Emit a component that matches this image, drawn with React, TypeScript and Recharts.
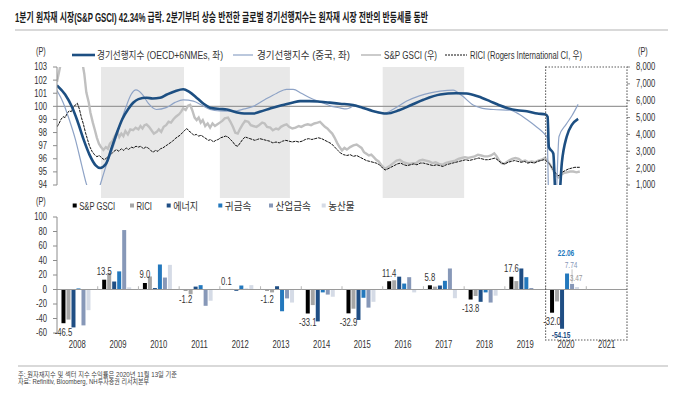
import React from 'react';
import {
  ComposedChart, BarChart, Line, Bar, XAxis, YAxis, ReferenceLine, ReferenceArea, LabelList,
} from 'recharts';

// ---------------- DATA ----------------
// Leading indicators (left axis) : [time (year fraction), value]
const oecdCli: [number, number][] = [
  [2008.0, 101.6], [2008.2, 100.9], [2008.36, 100.0], [2008.5, 98.9], [2008.65, 97.5], [2008.8, 96.3],
  [2008.95, 95.5], [2009.06, 95.3], [2009.2, 95.6], [2009.35, 96.9], [2009.47, 97.97], [2009.6, 99.0],
  [2009.75, 99.8], [2009.87, 100.27], [2010.0, 100.55], [2010.2, 100.65], [2010.35, 100.6], [2010.53, 100.65],
  [2010.7, 100.9], [2010.9, 101.15], [2011.1, 101.3], [2011.25, 101.1], [2011.45, 100.6], [2011.6, 100.2],
  [2011.76, 99.9], [2012.0, 99.8], [2012.17, 99.76], [2012.4, 99.55], [2012.6, 99.45], [2012.82, 99.45],
  [2013.0, 99.6], [2013.25, 99.85], [2013.55, 100.1], [2013.8, 100.3], [2013.97, 100.4], [2014.2, 100.4],
  [2014.46, 100.35], [2014.7, 100.28], [2014.95, 100.2], [2015.27, 100.1], [2015.5, 99.9], [2015.75, 99.65],
  [2016.1, 99.45], [2016.4, 99.7], [2016.7, 100.1], [2017.0, 100.5], [2017.41, 100.9], [2017.8, 101.0],
  [2018.06, 100.98], [2018.35, 100.75], [2018.63, 100.4], [2018.85, 100.1], [2019.05, 99.88], [2019.3, 99.7],
  [2019.54, 99.63], [2019.8, 99.45], [2020.0, 99.37], [2020.05, 99.2], [2020.08, 96.9], [2020.19, 96.4],
  [2020.25, 93.0], [2020.33, 93.0], [2020.4, 95.7], [2020.52, 97.7], [2020.65, 98.6], [2020.8, 99.05],
];

const chinaCli: [number, number][] = [
  [2008.0, 101.2], [2008.15, 100.3], [2008.3, 99.0], [2008.45, 97.5], [2008.6, 95.6], [2008.73, 94.0],
  [2008.8, 93.4], [2008.9, 93.0], [2009.0, 93.4], [2009.06, 94.0], [2009.2, 95.4], [2009.38, 96.9],
  [2009.55, 98.6], [2009.7, 100.0], [2009.82, 100.9], [2009.94, 101.25], [2010.1, 100.9], [2010.25, 100.2],
  [2010.44, 99.76], [2010.68, 99.9], [2010.9, 100.3], [2011.1, 100.5], [2011.35, 100.4], [2011.55, 100.1],
  [2011.76, 99.76], [2012.0, 99.65], [2012.33, 99.63], [2012.6, 99.8], [2012.82, 100.0], [2013.1, 100.5],
  [2013.4, 101.0], [2013.64, 101.3], [2013.8, 101.3], [2014.0, 101.0], [2014.21, 100.65], [2014.5, 100.3],
  [2014.75, 100.0], [2014.95, 99.88], [2015.1, 99.8], [2015.2, 99.9], [2015.32, 100.1], [2015.45, 99.95],
  [2015.7, 99.7], [2016.02, 99.45], [2016.3, 99.85], [2016.59, 100.4], [2016.9, 100.8], [2017.2, 101.05],
  [2017.41, 101.16], [2017.73, 101.24], [2017.95, 100.8], [2018.22, 100.1], [2018.45, 99.85], [2018.72, 99.76],
  [2019.13, 99.7], [2019.35, 99.4], [2019.54, 98.99], [2019.75, 98.5], [2019.95, 97.97], [2020.04, 97.6],
  [2020.08, 92.5], [2020.16, 91.5], [2020.25, 92.5], [2020.33, 97.7], [2020.5, 98.6], [2020.65, 99.3],
  [2020.8, 100.15],
];

// Commodity indices (right axis)
const gsciIdx: [number, number][] = [
  [2008.0, 7130], [2008.05, 7700], [2008.1, 8300], [2008.25, 9300], [2008.45, 10500], [2008.55, 9800],
  [2008.62, 8300], [2008.67, 7600], [2008.72, 6500], [2008.78, 5900], [2008.82, 5300], [2008.88, 4700],
  [2008.93, 4260], [2008.98, 3800], [2009.03, 3450], [2009.08, 3250], [2009.14, 3080], [2009.2, 3250],
  [2009.25, 3150], [2009.3, 3450], [2009.36, 3600], [2009.42, 3900], [2009.48, 4150], [2009.53, 3850],
  [2009.58, 4050], [2009.63, 3900], [2009.68, 4200], [2009.74, 4000], [2009.8, 4300], [2009.87, 4250],
  [2009.93, 4400], [2010.0, 4300], [2010.05, 4500], [2010.1, 4350], [2010.15, 4550], [2010.2, 4600],
  [2010.26, 4450], [2010.32, 4250], [2010.38, 4050], [2010.45, 4150], [2010.5, 4300], [2010.56, 4150],
  [2010.62, 4450], [2010.68, 4550], [2010.74, 4750], [2010.8, 4700], [2010.86, 4900], [2010.92, 5050],
  [2011.0, 5200], [2011.05, 5350], [2011.1, 5550], [2011.16, 5450], [2011.22, 5700], [2011.27, 5750],
  [2011.32, 5450], [2011.38, 5000], [2011.43, 4850], [2011.48, 5000], [2011.53, 4700], [2011.58, 4850],
  [2011.64, 4500], [2011.7, 4650], [2011.76, 4400], [2011.82, 4650], [2011.88, 4500], [2011.94, 4600],
  [2012.0, 4700], [2012.06, 4800], [2012.12, 4950], [2012.2, 5000], [2012.26, 4750], [2012.32, 4450],
  [2012.38, 4100], [2012.44, 4050], [2012.5, 4350], [2012.56, 4600], [2012.62, 4800], [2012.7, 4750],
  [2012.76, 4550], [2012.82, 4500], [2012.9, 4450], [2012.96, 4550], [2013.04, 4700], [2013.1, 4650],
  [2013.16, 4450], [2013.24, 4400], [2013.3, 4250], [2013.38, 4350], [2013.44, 4300], [2013.5, 4450],
  [2013.58, 4550], [2013.64, 4600], [2013.7, 4450], [2013.78, 4350], [2013.86, 4400], [2013.94, 4500],
  [2014.0, 4450], [2014.08, 4550], [2014.16, 4600], [2014.24, 4550], [2014.32, 4650], [2014.4, 4700],
  [2014.46, 4750], [2014.52, 4600], [2014.58, 4450], [2014.64, 4350], [2014.7, 4200], [2014.76, 4050],
  [2014.82, 3800], [2014.88, 3500], [2014.94, 3250], [2015.0, 3050], [2015.06, 3200], [2015.12, 3100],
  [2015.2, 3250], [2015.28, 3350], [2015.36, 3400], [2015.42, 3300], [2015.48, 3200], [2015.54, 2950],
  [2015.6, 2850], [2015.66, 2750], [2015.72, 2800], [2015.78, 2650], [2015.84, 2500], [2015.9, 2400],
  [2015.96, 2200], [2016.02, 2050], [2016.06, 1950], [2016.12, 2050], [2016.18, 2150], [2016.26, 2300],
  [2016.34, 2450], [2016.42, 2500], [2016.5, 2350], [2016.58, 2300], [2016.66, 2250], [2016.74, 2300],
  [2016.82, 2300], [2016.9, 2450], [2016.98, 2500], [2017.06, 2450], [2017.14, 2400], [2017.22, 2300],
  [2017.3, 2350], [2017.38, 2250], [2017.46, 2200], [2017.54, 2300], [2017.62, 2350], [2017.7, 2400],
  [2017.78, 2450], [2017.86, 2550], [2017.94, 2600], [2018.02, 2650], [2018.1, 2600], [2018.18, 2650],
  [2018.26, 2700], [2018.34, 2800], [2018.42, 2750], [2018.5, 2700], [2018.58, 2700], [2018.66, 2750],
  [2018.74, 2880], [2018.8, 2700], [2018.86, 2450], [2018.92, 2300], [2018.98, 2250], [2019.04, 2350],
  [2019.1, 2450], [2019.18, 2550], [2019.26, 2600], [2019.34, 2550], [2019.42, 2400], [2019.5, 2450],
  [2019.58, 2350], [2019.66, 2400], [2019.74, 2350], [2019.82, 2450], [2019.9, 2500], [2019.98, 2600],
  [2020.04, 2450], [2020.1, 2250], [2020.16, 2000], [2020.2, 1800], [2020.26, 1550], [2020.32, 1450],
  [2020.38, 1600], [2020.44, 1700], [2020.52, 1750], [2020.6, 1800], [2020.68, 1800], [2020.76, 1750],
  [2020.84, 1800],
];

const riciIdx: [number, number][] = [
  [2008.0, 4450], [2008.05, 4650], [2008.1, 4900], [2008.15, 5050], [2008.2, 5000], [2008.25, 5250],
  [2008.3, 5400], [2008.35, 5350], [2008.4, 5600], [2008.45, 5750], [2008.5, 5850], [2008.55, 5500],
  [2008.6, 5000], [2008.65, 4600], [2008.7, 4100], [2008.75, 3700], [2008.8, 3300], [2008.86, 3000],
  [2008.92, 2800], [2008.98, 2680], [2009.04, 2750], [2009.1, 2600], [2009.16, 2500], [2009.22, 2600],
  [2009.28, 2750], [2009.34, 2850], [2009.4, 3000], [2009.46, 3100], [2009.52, 3000], [2009.58, 3150],
  [2009.64, 3050], [2009.7, 3200], [2009.76, 3100], [2009.82, 3250], [2009.88, 3200], [2009.94, 3300],
  [2010.0, 3250], [2010.06, 3300], [2010.12, 3150], [2010.18, 3250], [2010.24, 3200], [2010.3, 3050],
  [2010.36, 2950], [2010.42, 3050], [2010.48, 3000], [2010.54, 3150], [2010.6, 3200], [2010.66, 3300],
  [2010.72, 3400], [2010.78, 3500], [2010.84, 3600], [2010.9, 3750], [2010.96, 3850], [2011.02, 3950],
  [2011.08, 4100], [2011.14, 4250], [2011.19, 4350], [2011.24, 4200], [2011.3, 4100], [2011.36, 3950],
  [2011.42, 4000], [2011.48, 3900], [2011.54, 3950], [2011.6, 3850], [2011.66, 3750], [2011.72, 3650],
  [2011.78, 3700], [2011.84, 3550], [2011.9, 3650], [2011.96, 3700], [2012.02, 3800], [2012.08, 3850],
  [2012.14, 3900], [2012.2, 3850], [2012.26, 3700], [2012.32, 3550], [2012.38, 3350], [2012.44, 3300],
  [2012.5, 3500], [2012.56, 3700], [2012.62, 3850], [2012.68, 3800], [2012.74, 3750], [2012.8, 3700],
  [2012.86, 3650], [2012.92, 3700], [2012.98, 3750], [2013.06, 3700], [2013.14, 3650], [2013.22, 3600],
  [2013.3, 3500], [2013.38, 3550], [2013.46, 3500], [2013.54, 3600], [2013.62, 3650], [2013.7, 3600],
  [2013.78, 3550], [2013.86, 3600], [2013.94, 3550], [2014.02, 3600], [2014.1, 3700], [2014.18, 3750],
  [2014.26, 3700], [2014.34, 3750], [2014.42, 3800], [2014.5, 3750], [2014.58, 3650], [2014.66, 3550],
  [2014.74, 3450], [2014.82, 3250], [2014.9, 3050], [2014.96, 2900], [2015.04, 2800], [2015.12, 2750],
  [2015.2, 2800], [2015.28, 2700], [2015.36, 2750], [2015.44, 2650], [2015.52, 2550], [2015.6, 2450],
  [2015.68, 2400], [2015.76, 2350], [2015.84, 2300], [2015.92, 2200], [2016.0, 2000], [2016.06, 1890],
  [2016.12, 1950], [2016.2, 2050], [2016.28, 2150], [2016.36, 2250], [2016.44, 2300], [2016.52, 2200],
  [2016.6, 2150], [2016.68, 2200], [2016.76, 2250], [2016.84, 2200], [2016.92, 2300], [2017.0, 2300],
  [2017.08, 2250], [2017.16, 2200], [2017.24, 2150], [2017.32, 2200], [2017.4, 2150], [2017.48, 2100],
  [2017.56, 2200], [2017.64, 2250], [2017.72, 2300], [2017.8, 2350], [2017.88, 2400], [2017.96, 2450],
  [2018.04, 2500], [2018.12, 2450], [2018.2, 2500], [2018.28, 2550], [2018.36, 2600], [2018.44, 2550],
  [2018.52, 2500], [2018.6, 2500], [2018.68, 2550], [2018.76, 2600], [2018.84, 2450], [2018.92, 2300],
  [2019.0, 2250], [2019.08, 2350], [2019.16, 2400], [2019.24, 2450], [2019.32, 2400], [2019.4, 2350],
  [2019.48, 2400], [2019.56, 2300], [2019.64, 2350], [2019.72, 2300], [2019.8, 2400], [2019.88, 2450],
  [2019.96, 2500], [2020.03, 2400], [2020.1, 2250], [2020.16, 2000], [2020.22, 1800], [2020.28, 1600],
  [2020.33, 1550], [2020.4, 1750], [2020.48, 1850], [2020.56, 1950], [2020.64, 2000], [2020.72, 2050],
  [2020.84, 2050],
];

// Annual returns (%) by index / sector
const barYears = ['2008', '2009', '2010', '2011', '2012', '2013', '2014', '2015', '2016', '2017', '2018', '2019', '2020', '2021'];
const gsciRet = [-46.5, 13.5, 9.0, -1.2, 0.1, -1.2, -33.1, -32.9, 11.4, 5.8, -13.8, 17.6, -32.0, null];
const riciRet = [-41.5, 23, 18, -6.5, 0.8, -4, -21.5, -26.5, 12.7, 4, -9, 11.6, -16.5, null];
const energyRet = [-52.3, 11, 2, 4, -1.8, 4.5, -44, -42, 17.7, 5.5, -17, 29, -54.15, null];
const preciousRet = [1.5, 25, 34.5, 6, 5.5, -30, -4, -11.4, 8.2, 12, -4, 17, 22.06, null];
const industrialRet = [-49.5, 82, 16.5, -22.5, 1, -12.3, -7, -25, 17, 29, -18, 2, 7.74, null];
const agriRet = [-28.5, 3, 34, -15.5, 6, -18, -10, -17, -4, -12, -8.5, 0.5, 3.47, null];

// Shaded periods and highlighted window (years)
const shadedPeriods: [number, number][] = [[2009.08, 2011.12], [2012.0, 2013.72], [2016.0, 2018.0]];
const timeDomain: [number, number] = [2008, 2022];
const highlightFrom = 2020;

const leftTicks = [94, 95, 96, 97, 98, 99, 100, 101, 102, 103];
const rightTicks = [1000, 2000, 3000, 4000, 5000, 6000, 7000, 8000];
const barTicks = [-60, -40, -20, 0, 20, 40, 60, 80, 100];

// ---------------- STYLE ----------------
const FONT = '"Liberation Sans", Arial, "Noto Sans CJK KR", sans-serif';
const SX = 0.73;
const C = {
  oecd: '#1d4f82', china: '#8ea3c6', gsci: '#c0c0c0', rici: '#111111',
  b1: '#000000', b2: '#a6a6a6', b3: '#1f4e84', b4: '#2378bd', b5: '#8798b8', b6: '#d5dbe6',
  shade: '#e8e8e8', text: '#333333',
};
const W = 680, H = 398;
const PL = 57, PR = 627;
const TOP = { y: 40, h: 160, mt: 27, mb: 15 };
const BOT = { y: 200, h: 160, mt: 17 };

const toPts = (a: [number, number][]) => a.map(([t, v]) => ({ t, v }));
const barRows = barYears.map((y, i) => ({
  year: y, gsci: gsciRet[i], rici: riciRet[i], energy: energyRet[i],
  precious: preciousRet[i], industrial: industrialRet[i], agri: agriRet[i],
}));
const idx2020 = barYears.indexOf('2020');

const SText = ({ x, y, anchor = 'start', size = 10, fill = C.text, weight = 400, children }: any) => (
  <g transform={`translate(${x},${y}) scale(${SX},1)`}>
    <text textAnchor={anchor} dominantBaseline="central" fontSize={size} fill={fill} fontWeight={weight} fontFamily={FONT}>{children}</text>
  </g>
);

const LTick = (p: any) => <SText x={p.x} y={p.y} anchor="end" size={10.5}>{p.payload.value}</SText>;
const RTick = (p: any) => <SText x={p.x} y={p.y} anchor="start" size={10.5}>{Number(p.payload.value).toLocaleString('en-US')}</SText>;
const XTick = (p: any) => <SText x={p.x} y={p.y + 8} anchor="middle" size={10.5}>{p.payload.value}</SText>;

const barBox = (p: any) => {
  const top = Math.min(p.y, p.y + p.height);
  const bot = Math.max(p.y, p.y + p.height);
  return { cx: p.x + p.width / 2, top, bot };
};

const gsciLabel = (p: any) => {
  if (p.value == null) return null;
  const { cx, top, bot } = barBox(p);
  const cy = p.value >= 0 ? top - 8 : bot + 9;
  return <SText x={cx} y={cy} anchor="middle" size={10.5}>{Number(p.value).toFixed(1)}</SText>;
};

const specialLabel = (color: string, bold: boolean, lift: number, leader = false) => (p: any) => {
  if (p.index !== idx2020 || p.value == null) return null;
  const { cx, top, bot } = barBox(p);
  const neg = p.value < 0;
  const cy = neg ? bot + 6 : top - lift;
  return (
    <g>
      {leader && <line x1={cx} x2={cx} y1={cy + 4.5} y2={top - 1} stroke="#b0b0b0" strokeWidth={0.8} />}
      <SText x={cx - 1} y={cy} anchor="middle" size={9} fill={color} weight={bold ? 700 : 400}>{p.value}</SText>
    </g>
  );
};

const yearX = (yr: number) => PL + ((yr - timeDomain[0]) / (timeDomain[1] - timeDomain[0])) * (PR - PL);

export default function App() {
  const boxX = yearX(highlightFrom);
  return (
    <div style={{ position: 'absolute', left: 0, top: 0, width: W, height: H, background: '#fff', overflow: 'hidden', fontFamily: FONT }}>
      {/* Top panel: leading indicators & commodity indices */}
      <div style={{ position: 'absolute', left: 0, top: TOP.y }}>
        <ComposedChart width={W} height={TOP.h} margin={{ top: TOP.mt, right: 0, bottom: TOP.mb, left: 0 }}>
          <XAxis xAxisId="t" type="number" dataKey="t" domain={timeDomain} hide allowDataOverflow />
          <YAxis yAxisId="l" orientation="left" width={PL} domain={[94, 103]} ticks={leftTicks} interval={0} allowDataOverflow
            axisLine={{ stroke: '#8c8c8c' }} tickLine={{ stroke: '#8c8c8c' }} tickSize={4} tickMargin={6} tick={<LTick />} />
          <YAxis yAxisId="r" orientation="right" width={W - PR} domain={[1000, 8000]} ticks={rightTicks} interval={0} allowDataOverflow
            axisLine={false} tickLine={{ stroke: '#8c8c8c' }} tickSize={3} tickMargin={6} tick={<RTick />} />
          {shadedPeriods.map(([a, b], i) => (
            <ReferenceArea key={i} xAxisId="t" yAxisId="l" x1={a} x2={b} y1={93} y2={103} ifOverflow="visible"
              fill={C.shade} fillOpacity={1} stroke="none" />
          ))}
          <ReferenceLine xAxisId="t" yAxisId="l" y={100} stroke="#9a9a9a" strokeWidth={1.2} />
          <Line xAxisId="t" yAxisId="r" data={toPts(gsciIdx)} dataKey="v" type="linear" stroke={C.gsci} strokeWidth={2.4}
            dot={false} activeDot={false} isAnimationActive={false} />
          <Line xAxisId="t" yAxisId="r" data={toPts(riciIdx)} dataKey="v" type="linear" stroke={C.rici} strokeWidth={1}
            strokeDasharray="3 0.8" dot={false} activeDot={false} isAnimationActive={false} />
          <Line xAxisId="t" yAxisId="l" data={toPts(chinaCli)} dataKey="v" type="monotone" stroke={C.china} strokeWidth={1.2}
            dot={false} activeDot={false} isAnimationActive={false} />
          <Line xAxisId="t" yAxisId="l" data={toPts(oecdCli)} dataKey="v" type="monotone" stroke={C.oecd} strokeWidth={2.6}
            dot={false} activeDot={false} isAnimationActive={false} />
        </ComposedChart>
      </div>

      {/* Bottom panel: annual returns */}
      <div style={{ position: 'absolute', left: 0, top: BOT.y }}>
        <BarChart width={W} height={BOT.h} data={barRows} margin={{ top: BOT.mt, right: W - PR, bottom: 0, left: 0 }}
          barCategoryGap="11%" barGap={1}>
          <XAxis dataKey="year" height={27} axisLine={false} tickLine={false} tickSize={4} tickMargin={0} interval={0} tick={<XTick />} />
          <XAxis xAxisId="t" type="number" domain={timeDomain} hide allowDataOverflow />
          <YAxis width={PL} domain={[-60, 100]} ticks={barTicks} interval={0} allowDataOverflow
            axisLine={{ stroke: '#8c8c8c' }} tickLine={{ stroke: '#8c8c8c' }} tickSize={4} tickMargin={6} tick={<LTick />} />
          {shadedPeriods.map(([a, b], i) => (
            <ReferenceArea key={i} xAxisId="t" x1={a} x2={b} y1={-63} y2={92} ifOverflow="visible"
              fill={C.shade} fillOpacity={1} stroke="none" />
          ))}
          <ReferenceLine y={0} stroke="#9a9a9a" strokeWidth={1.2} />
          {barYears.slice(1).map((yr) => (
            <ReferenceLine key={yr} segment={[{ x: yr, y: 0 }, { x: yr, y: 4.5 }]} position="start" stroke="#b5b5b5" />
          ))}
          <Bar dataKey="gsci" fill={C.b1} isAnimationActive={false}>
            <LabelList dataKey="gsci" content={gsciLabel} />
          </Bar>
          <Bar dataKey="rici" fill={C.b2} isAnimationActive={false} />
          <Bar dataKey="energy" fill={C.b3} isAnimationActive={false}>
            <LabelList dataKey="energy" content={specialLabel(C.b3, true, 8)} />
          </Bar>
          <Bar dataKey="precious" fill={C.b4} isAnimationActive={false}>
            <LabelList dataKey="precious" content={specialLabel(C.b4, true, 20.5)} />
          </Bar>
          <Bar dataKey="industrial" fill={C.b5} isAnimationActive={false}>
            <LabelList dataKey="industrial" content={specialLabel(C.b5, false, 19, true)} />
          </Bar>
          <Bar dataKey="agri" fill={C.b6} isAnimationActive={false}>
            <LabelList dataKey="agri" content={specialLabel('#9a9a9a', false, 9)} />
          </Bar>
        </BarChart>
      </div>

      {/* Titles, legends, notes */}
      <svg width={W} height={H} style={{ position: 'absolute', left: 0, top: 0, pointerEvents: 'none' }} fontFamily={FONT}>
        <text x={15} y={18} dominantBaseline="central" fontSize={12.5} fontWeight={700} fill="#1a1a1a"
          textLength={413} lengthAdjust="spacingAndGlyphs">1분기 원자재 시장(S&amp;P GSCI) 42.34% 급락. 2분기부터 상승 반전한 글로벌 경기선행지수는 원자재 시장 전반의 반등세를 동반</text>
        <line x1={15} x2={668} y1={30} y2={30} stroke="#d9d9d9" strokeWidth={2} />

        <SText x={36} y={52} size={10}>(P)</SText>
        <SText x={638} y={52} size={10}>(P)</SText>
        <line x1={72} x2={95} y1={55} y2={55} stroke={C.oecd} strokeWidth={2.6} />
        <text x={97} y={55.5} dominantBaseline="central" fontSize={10} fill={C.text} textLength={126} lengthAdjust="spacingAndGlyphs">경기선행지수 (OECD+6NMEs, 좌)</text>
        <line x1={233} x2={253} y1={55} y2={55} stroke={C.china} strokeWidth={1.2} />
        <text x={257} y={55.5} dominantBaseline="central" fontSize={10} fill={C.text} textLength={93} lengthAdjust="spacingAndGlyphs">경기선행지수 (중국, 좌)</text>
        <line x1={361} x2={381} y1={55} y2={55} stroke="#a8a8a8" strokeWidth={1.2} />
        <text x={384} y={55.5} dominantBaseline="central" fontSize={10} fill={C.text} textLength={53} lengthAdjust="spacingAndGlyphs">S&amp;P GSCI (우)</text>
        <line x1={445} x2={467} y1={55} y2={55} stroke={C.rici} strokeWidth={1} strokeDasharray="2 1" />
        <text x={470} y={55.5} dominantBaseline="central" fontSize={10} fill={C.text} textLength={112} lengthAdjust="spacingAndGlyphs">RICI (Rogers International CI, 우)</text>

        <SText x={36} y={201.5} size={10}>(P)</SText>
        {[
          { x: 72.7, c: C.b1, t: 'S&P GSCI', w: 36 },
          { x: 130, c: C.b2, t: 'RICI', w: 15.5 },
          { x: 166.7, c: C.b3, t: '에너지', w: 25 },
          { x: 218.3, c: C.b4, t: '귀금속', w: 26.5 },
          { x: 269, c: C.b5, t: '산업금속', w: 35.5 },
          { x: 321.7, c: C.b6, t: '농산물', w: 26.5 },
        ].map((it) => (
          <g key={it.t}>
            <rect x={it.x} y={203.5} width={4} height={4} fill={it.c} />
            <text x={it.x + 6.5} y={206} dominantBaseline="central" fontSize={10} fill={C.text} textLength={it.w} lengthAdjust="spacingAndGlyphs">{it.t}</text>
          </g>
        ))}

        <rect x={boxX} y={67} width={PR - boxX} height={273} fill="none" stroke="#444" strokeWidth={1.2} strokeDasharray="1.3 1.7" />

        <line x1={18} x2={668} y1={366} y2={366} stroke="#d9d9d9" strokeWidth={2} />
        <text x={18} y={374} dominantBaseline="central" fontSize={7} fill="#444" textLength={159} lengthAdjust="spacingAndGlyphs">주: 원자재지수 및 섹터 지수 수익률은 2020년 11월 13일 기준</text>
        <text x={18} y={381.7} dominantBaseline="central" fontSize={7} fill="#444" textLength={131} lengthAdjust="spacingAndGlyphs">자료: Refinitiv, Bloomberg, NH투자증권 리서치본부</text>
      </svg>
    </div>
  );
}
